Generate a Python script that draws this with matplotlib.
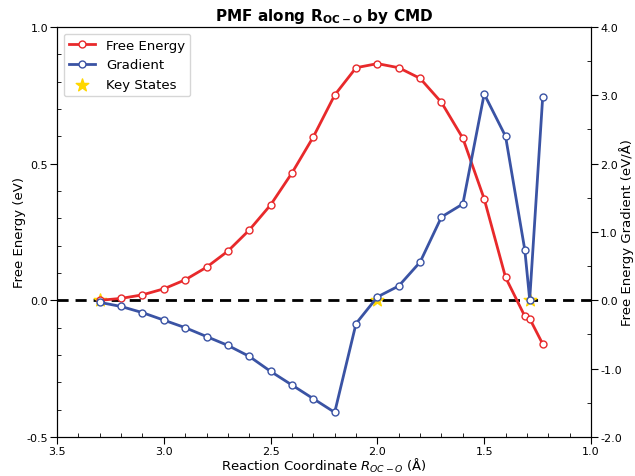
import matplotlib
matplotlib.use("Agg")
import matplotlib.pyplot as plt
from matplotlib.ticker import MultipleLocator, FormatStrFormatter

# reaction coordinate (Angstrom)
r = [3.3, 3.2, 3.1, 3.0, 2.9, 2.8, 2.7, 2.6, 2.5, 2.4, 2.3, 2.2, 2.1, 2.0,
     1.9, 1.8, 1.7, 1.6, 1.5, 1.4, 1.31, 1.287, 1.226]
free_energy = [0.0, 0.007, 0.02, 0.042, 0.075, 0.121, 0.18, 0.257, 0.349, 0.466,
               0.598, 0.751, 0.851, 0.866, 0.851, 0.812, 0.724, 0.593, 0.371,
               0.084, -0.058, -0.067, -0.16]
gradient = [-0.03, -0.09, -0.18, -0.29, -0.40, -0.53, -0.66, -0.82, -1.04, -1.24,
            -1.44, -1.64, -0.34, 0.05, 0.21, 0.56, 1.22, 1.41, 3.02, 2.40,
            0.74, 0.01, 2.98]
key_r = [3.3, 2.0, 1.287]
key_e = [0.0, 0.0, 0.0]

red = "#e8292b"
blue = "#3a53a4"

fig = plt.figure(figsize=(6.35, 4.77), dpi=100)
ax1 = fig.add_axes([0.0898, 0.0818, 0.8409, 0.8595])
ax2 = ax1.twinx()

ax1.axhline(0, color="black", ls="--", lw=2, dashes=(4, 2.5), zorder=1)
l1, = ax1.plot(r, free_energy, color=red, lw=2, marker="o", ms=5,
               mfc="white", mec=red, mew=1, label="Free Energy", zorder=3)
s1 = ax1.scatter(key_r, key_e, marker="*", s=90, color="#ffd700",
                 label="Key States", zorder=2)
l2, = ax2.plot(r, gradient, color=blue, lw=2, marker="o", ms=5,
               mfc="white", mec=blue, mew=1, label="Gradient")

ax1.set_xlim(3.5, 1.0)
ax1.set_ylim(-0.5, 1.0)
ax2.set_ylim(-2.0, 4.0)

ax1.xaxis.set_major_locator(MultipleLocator(0.5))
ax1.xaxis.set_minor_locator(MultipleLocator(0.1))
ax1.yaxis.set_major_locator(MultipleLocator(0.5))
ax1.yaxis.set_minor_locator(MultipleLocator(0.1))
ax2.yaxis.set_major_locator(MultipleLocator(1.0))
ax2.yaxis.set_minor_locator(MultipleLocator(0.5))
ax1.xaxis.set_major_formatter(FormatStrFormatter("%.1f"))
ax1.yaxis.set_major_formatter(FormatStrFormatter("%.1f"))
ax2.yaxis.set_major_formatter(FormatStrFormatter("%.1f"))

for a in (ax1, ax2):
    a.tick_params(which="major", direction="out", length=5, labelsize=8, pad=1.5)
    a.tick_params(which="minor", direction="in", length=3)

ax1.set_xlabel("Reaction Coordinate $R_{OC-O}$ (Å)", fontsize=9.5, labelpad=0)
ax1.set_ylabel("Free Energy (eV)", fontsize=9.5)
ax2.set_ylabel("Free Energy Gradient (eV/Å)", fontsize=9.5)
ax1.yaxis.set_label_coords(-0.058, 0.5)
ax2.yaxis.set_label_coords(1.053, 0.5)
ax1.set_title(r"PMF along $\mathbf{R_{OC-O}}$ by CMD", fontsize=11,
              fontweight="bold", pad=5)

ax1.legend([l1, l2, s1], ["Free Energy", "Gradient", "Key States"],
           loc="upper left", fontsize=9.5)

fig.savefig("out.png", dpi=100)
